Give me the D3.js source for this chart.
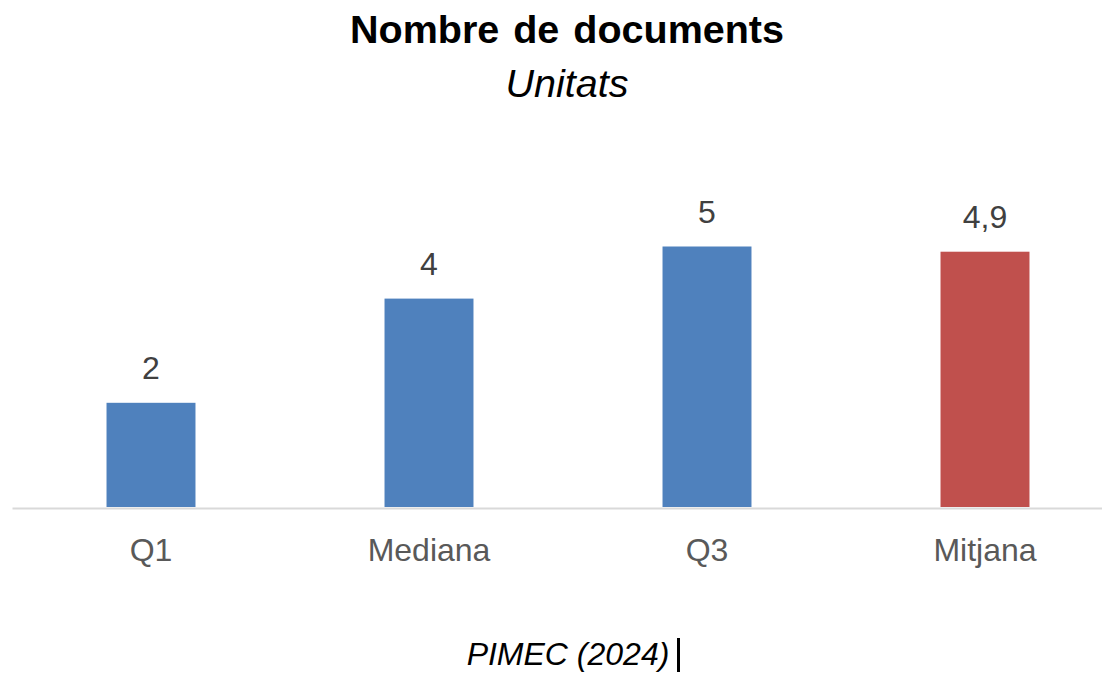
<!DOCTYPE html>
<html>
<head>
<meta charset="utf-8">
<script src="https://cdn.jsdelivr.net/npm/d3@7"></script>
<style>
  html, body { margin: 0; padding: 0; background: #fff; }
  svg { display: block; }
  text { font-family: "Liberation Sans", Arial, sans-serif; }
</style>
</head>
<body>
<svg id="chart" width="1102" height="673"></svg>
<script>
const categories = ["Q1", "Mediana", "Q3", "Mitjana"];
const values = [2, 4, 5, 4.9];
const valueLabels = ["2", "4", "5", "4,9"];
const barColors = ["#4F81BD", "#4F81BD", "#4F81BD", "#C0504D"];
const titleText = "Nombre de documents";
const subtitleText = "Unitats";
const sourceText = "PIMEC (2024)";

const svg = d3.select("#chart");
const W = 1102, H = 673;
svg.append("rect").attr("width", W).attr("height", H).attr("fill", "#fff");

const x = d3.scaleBand()
  .domain(categories)
  .range([12, 1124])
  .paddingInner(0.68)
  .paddingOuter(0.34);

const y = d3.scaleLinear()
  .domain([0, 5])
  .range([507, 246.5]);

const data = categories.map((c, i) => ({ c, v: values[i], label: valueLabels[i], color: barColors[i] }));

// bars
svg.append("g").selectAll("rect")
  .data(data)
  .join("rect")
  .attr("x", d => x(d.c))
  .attr("y", d => y(d.v))
  .attr("width", x.bandwidth())
  .attr("height", d => y(0) - y(d.v))
  .attr("fill", d => d.color);

// axis
const axis = svg.append("g")
  .attr("transform", `translate(0,${y(0) + 1})`)
  .call(d3.axisBottom(x).tickSize(0).tickPadding(30).tickSizeOuter(0));
axis.select(".domain").attr("stroke", "#D9D9D9").attr("stroke-width", 2);
axis.selectAll(".tick text")
  .attr("font-family", '"Liberation Sans", Arial, sans-serif')
  .attr("font-size", 32)
  .attr("fill", "#595959")
  .attr("dy", null)
  .attr("y", 53);

// value labels
svg.append("g").selectAll("text")
  .data(data)
  .join("text")
  .attr("x", d => x(d.c) + x.bandwidth() / 2)
  .attr("y", d => y(d.v) - 24)
  .attr("text-anchor", "middle")
  .attr("font-size", 32)
  .attr("fill", "#404040")
  .text(d => d.label);

// title
svg.append("text")
  .attr("x", 567).attr("y", 43)
  .attr("text-anchor", "middle")
  .attr("font-size", 39.5)
  .attr("font-weight", "bold")
  .attr("fill", "#000")
  .style("word-spacing", "3px")
  .text(titleText);

svg.append("text")
  .attr("x", 567).attr("y", 97)
  .attr("text-anchor", "middle")
  .attr("font-size", 39.5)
  .attr("font-style", "italic")
  .attr("fill", "#000")
  .text(subtitleText);

// source
svg.append("text")
  .attr("x", 568).attr("y", 665)
  .attr("text-anchor", "middle")
  .attr("font-size", 32)
  .attr("font-style", "italic")
  .attr("fill", "#000")
  .text(sourceText);

// text cursor artifact
svg.append("rect")
  .attr("x", 677).attr("y", 638)
  .attr("width", 3).attr("height", 34)
  .attr("fill", "#000");
</script>
</body>
</html>
